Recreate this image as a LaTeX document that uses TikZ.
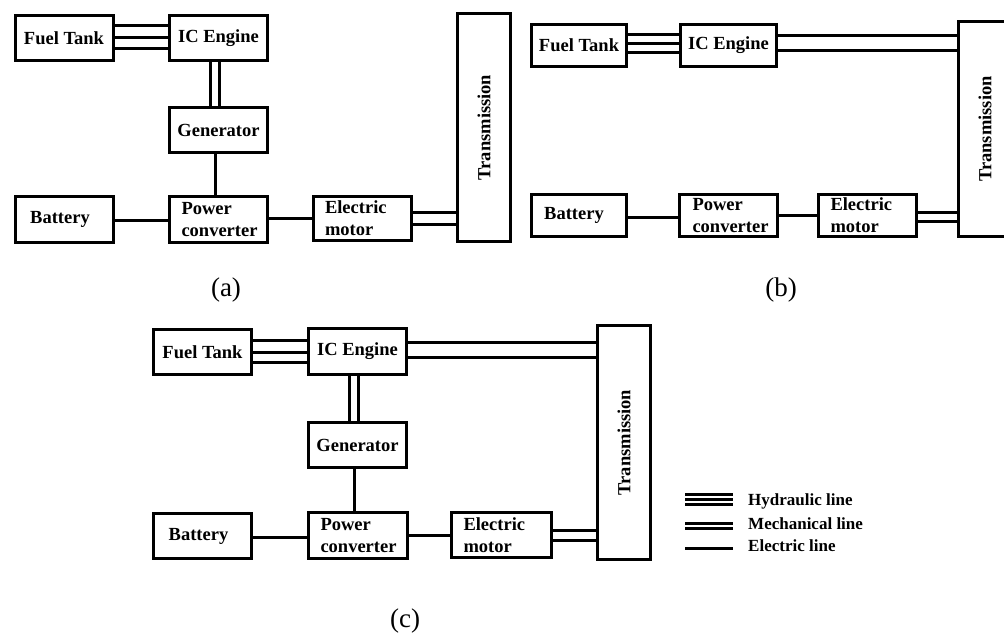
\documentclass[tikz,border=0pt]{standalone}
\usepackage{fontspec}
\setmainfont{Liberation Serif}
\begin{document}
\begin{tikzpicture}[x=1pt,y=-1pt,
  box/.style={draw,line width=3pt,inner sep=0pt,
    font=\fontsize{18.5}{22}\selectfont\bfseries,
    minimum width=98pt,minimum height=45pt},
  lbox/.style={box,text width=74pt,inner xsep=12pt,align=left},
  trbox/.style={box,minimum width=53pt},
  ln/.style={line width=3pt},
  captxt/.style={font=\fontsize{27}{30}\selectfont},
  leg/.style={anchor=west,inner sep=0pt,font=\fontsize{17}{20}\selectfont\bfseries}]
\useasboundingbox (0,0) rectangle (1004,634);

% ---------------- (a) ----------------
\node[box] (aft)  at (64,38)      {Fuel Tank};
\node[box] (aice) at (218.5,38)   {IC Engine};
\node[box] (agen) at (218.5,130)  {Generator};
\node[box,minimum height=46pt] (abat) at (64,219.5) {\hspace*{-8pt}Battery};
\node[lbox,minimum height=46pt] (apc) at (218.5,219.5) {Power\\converter};
\node[lbox,minimum height=44pt] (aem) at (362,218.5) {Electric\\motor};
\node[trbox,minimum height=228pt] (atr) at (484,127.5) {\rotatebox{90}{Transmission}};

\foreach \yy in {26,38,49} \draw[ln] (aft.east |- 0,\yy) -- (aice.west |- 0,\yy);
\foreach \xx in {210,219} \draw[ln] (aice.south -| \xx,0) -- (agen.north -| \xx,0);
\draw[ln] (agen.south -| 215,0) -- (apc.north -| 215,0);
\draw[ln] (abat.east |- 0,220) -- (apc.west |- 0,220);
\draw[ln] (apc.east |- 0,218) -- (aem.west |- 0,218);
\foreach \yy in {212,224} \draw[ln] (aem.east |- 0,\yy) -- (atr.west |- 0,\yy);
\node[captxt] (capa) at (226,290) {(a)};

% ---------------- (b) ----------------
\node[box,minimum width=95pt,minimum height=42pt] (bft)  at (579,45.5)   {Fuel Tank};
\node[box,minimum width=96pt,minimum height=42pt] (bice) at (728.5,45.5) {IC Engine};
\node[box,minimum width=95pt,minimum height=42pt] (bbat) at (579,215.5)  {\hspace*{-10pt}Battery};
\node[lbox,text width=72pt,minimum height=42pt] (bpc) at (728.5,215.5) {Power\\converter};
\node[lbox,text width=73pt,inner xsep=12pt,minimum height=42pt] (bem) at (867,215.5) {Electric\\motor};
\node[trbox,minimum height=215pt] (btr) at (985,129) {\rotatebox{90}{Transmission}};

\foreach \yy in {35,44,53} \draw[ln] (bft.east |- 0,\yy) -- (bice.west |- 0,\yy);
\foreach \yy in {36,51} \draw[ln] (bice.east |- 0,\yy) -- (btr.west |- 0,\yy);
\draw[ln] (bbat.east |- 0,217) -- (bpc.west |- 0,217);
\draw[ln] (bpc.east |- 0,215) -- (bem.west |- 0,215);
\foreach \yy in {212,221} \draw[ln] (bem.east |- 0,\yy) -- (btr.west |- 0,\yy);
\node[captxt] (capb) at (781,290) {(b)};

% ---------------- (c) ----------------
\node[box] (cft)  at (202.5,352)   {Fuel Tank};
\node[box,minimum height=46pt] (cice) at (357.5,351.5) {IC Engine};
\node[box] (cgen) at (357.5,445)   {Generator};
\node[box] (cbat) at (202.5,536)   {\hspace*{-8pt}Battery};
\node[lbox,text width=75pt,minimum height=46pt] (cpc) at (358,535.5) {Power\\converter};
\node[lbox,text width=76pt,minimum height=45pt] (cem) at (501.5,535) {Electric\\motor};
\node[trbox,minimum height=234pt] (ctr) at (624,442.5) {\rotatebox{90}{Transmission}};

\foreach \yy in {340,352,362} \draw[ln] (cft.east |- 0,\yy) -- (cice.west |- 0,\yy);
\foreach \yy in {342,357} \draw[ln] (cice.east |- 0,\yy) -- (ctr.west |- 0,\yy);
\foreach \xx in {349,358} \draw[ln] (cice.south -| \xx,0) -- (cgen.north -| \xx,0);
\draw[ln] (cgen.south -| 354,0) -- (cpc.north -| 354,0);
\draw[ln] (cbat.east |- 0,537) -- (cpc.west |- 0,537);
\draw[ln] (cpc.east |- 0,535) -- (cem.west |- 0,535);
\foreach \yy in {530,540} \draw[ln] (cem.east |- 0,\yy) -- (ctr.west |- 0,\yy);
\node[captxt] (capc) at (405,621) {(c)};

% ---------------- legend ----------------
\coordinate (lg1) at (685,0);
\coordinate (lg2) at (733,0);
\foreach \yy in {494,499,504} \draw[ln] (lg1 |- 0,\yy) -- (lg2 |- 0,\yy);
\foreach \yy in {523,528} \draw[ln] (lg1 |- 0,\yy) -- (lg2 |- 0,\yy);
\draw[ln] (lg1 |- 0,548) -- (lg2 |- 0,548);
\node[leg] (lh) at (748,501) {Hydraulic line};
\node[leg] (lm) at (748,524) {Mechanical line};
\node[leg] (le) at (748,546) {Electric line};
\end{tikzpicture}
\end{document}
